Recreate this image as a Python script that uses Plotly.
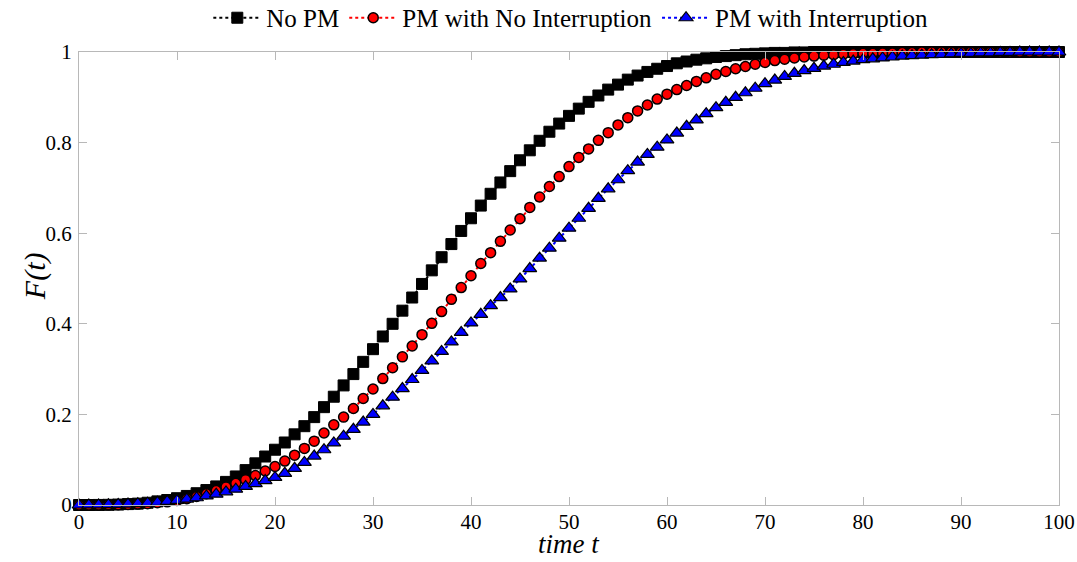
import plotly.graph_objects as go

t = list(range(0, 101))

no_pm = [0.0, 0.0, 0.0001, 0.0004, 0.001, 0.002, 0.003, 0.005, 0.008, 0.011,
         0.015, 0.020, 0.026, 0.033, 0.041, 0.051, 0.063, 0.077, 0.092, 0.107,
         0.122, 0.138, 0.156, 0.174, 0.194, 0.216, 0.239, 0.264, 0.289, 0.316,
         0.344, 0.372, 0.400, 0.429, 0.458, 0.488, 0.518, 0.547, 0.576, 0.605,
         0.633, 0.661, 0.687, 0.712, 0.737, 0.761, 0.783, 0.804, 0.824, 0.842,
         0.859, 0.875, 0.890, 0.904, 0.917, 0.928, 0.939, 0.948, 0.956, 0.963,
         0.969, 0.975, 0.979, 0.983, 0.986, 0.989, 0.991, 0.993, 0.995, 0.996,
         0.997, 0.998, 0.998, 0.999, 0.999, 1.0, 1.0, 1.0, 1.0, 1.0,
         1.0, 1.0, 1.0, 1.0, 1.0, 1.0, 1.0, 1.0, 1.0, 1.0,
         1.0, 1.0, 1.0, 1.0, 1.0, 1.0, 1.0, 1.0, 1.0, 1.0, 1.0]

pm_no_int = [0.0, 0.0, 0.0001, 0.0003, 0.0007, 0.0013, 0.002, 0.003, 0.005, 0.007,
             0.010, 0.014, 0.019, 0.025, 0.032, 0.040, 0.048, 0.056, 0.065, 0.075,
             0.085, 0.097, 0.110, 0.125, 0.141, 0.159, 0.177, 0.194, 0.213, 0.235,
             0.256, 0.279, 0.303, 0.327, 0.351, 0.376, 0.401, 0.427, 0.454, 0.480,
             0.506, 0.533, 0.557, 0.582, 0.607, 0.632, 0.657, 0.680, 0.703, 0.725,
             0.747, 0.767, 0.786, 0.805, 0.822, 0.839, 0.855, 0.870, 0.883, 0.896,
             0.907, 0.917, 0.926, 0.935, 0.943, 0.951, 0.957, 0.963, 0.968, 0.973,
             0.977, 0.981, 0.984, 0.987, 0.989, 0.991, 0.993, 0.994, 0.995, 0.996,
             0.997, 0.997, 0.998, 0.998, 0.999, 0.999, 1.0, 1.0, 1.0, 1.0,
             1.0, 1.0, 1.0, 1.0, 1.0, 1.0, 1.0, 1.0, 1.0, 1.0, 1.0]

pm_int = [0.0, 0.0001, 0.0003, 0.0007, 0.0013, 0.002, 0.003, 0.004, 0.006, 0.008,
          0.010, 0.013, 0.016, 0.020, 0.024, 0.029, 0.035, 0.041, 0.047, 0.054,
          0.061, 0.070, 0.081, 0.094, 0.108, 0.122, 0.137, 0.152, 0.167, 0.183,
          0.200, 0.219, 0.238, 0.257, 0.277, 0.297, 0.318, 0.339, 0.360, 0.381,
          0.402, 0.421, 0.440, 0.458, 0.477, 0.499, 0.522, 0.545, 0.567, 0.589,
          0.611, 0.633, 0.655, 0.677, 0.698, 0.718, 0.738, 0.757, 0.774, 0.790,
          0.806, 0.821, 0.836, 0.850, 0.864, 0.877, 0.889, 0.900, 0.910, 0.920,
          0.930, 0.938, 0.946, 0.953, 0.959, 0.964, 0.969, 0.973, 0.977, 0.980,
          0.983, 0.985, 0.987, 0.989, 0.991, 0.992, 0.993, 0.994, 0.995, 0.996,
          0.997, 0.997, 0.998, 0.998, 0.999, 0.999, 1.0, 1.0, 1.0, 1.0, 1.0]

x_ticks = [0, 10, 20, 30, 40, 50, 60, 70, 80, 90, 100]
y_ticks = [0, 0.2, 0.4, 0.6, 0.8, 1]
y_tick_text = ["0", "0.2", "0.4", "0.6", "0.8", "1"]

FONT = "Liberation Serif, Times New Roman, Times, DejaVu Serif, serif"

fig = go.Figure()
fig.add_trace(go.Scatter(
    x=t, y=no_pm, name="No PM", mode="lines+markers",
    line=dict(color="black", width=2, dash="dot"),
    marker=dict(symbol="square", size=11, color="black",
                line=dict(color="black", width=1)),
    cliponaxis=False))
fig.add_trace(go.Scatter(
    x=t, y=pm_no_int, name="PM with No Interruption", mode="lines+markers",
    line=dict(color="red", width=2, dash="dot"),
    marker=dict(symbol="circle", size=10, color="red",
                line=dict(color="black", width=1.5)),
    cliponaxis=False))
fig.add_trace(go.Scatter(
    x=t, y=pm_int, name="PM with Interruption", mode="lines+markers",
    line=dict(color="blue", width=2, dash="dot"),
    marker=dict(symbol="triangle-up", size=12, color="blue",
                line=dict(color="black", width=1.2)),
    cliponaxis=False))

axis_common = dict(
    showline=True, linecolor="#b8b8b8", linewidth=1.2, mirror="ticks",
    ticks="inside", ticklen=8, tickcolor="#b8b8b8", tickwidth=1,
    showgrid=False, zeroline=False, automargin=False,
    tickfont=dict(family=FONT, size=21, color="black"),
)

fig.update_xaxes(range=[0, 100], tickvals=x_ticks, ticklabelstandoff=-2, **axis_common)
fig.update_yaxes(range=[0, 1], tickvals=y_ticks, ticktext=y_tick_text,
                 ticklabelstandoff=2, **axis_common)

fig.update_layout(
    width=1077, height=562,
    margin=dict(l=79, r=18, t=52, b=57, autoexpand=False),
    paper_bgcolor="white", plot_bgcolor="white",
    font=dict(family=FONT, color="black"),
    showlegend=True,
    legend=dict(orientation="h", x=0.53, xref="container", xanchor="center",
                y=0.968, yref="container", yanchor="middle",
                font=dict(family=FONT, size=25, color="black"),
                itemwidth=48, tracegroupgap=0, bgcolor="rgba(0,0,0,0)"),
    annotations=[
        dict(text="<i>time t</i>", x=0.5, xref="paper", y=-(544 - 505) / 453.0,
             yref="paper", xanchor="center", yanchor="middle", showarrow=False,
             font=dict(family=FONT, size=27, color="black")),
        dict(text="<i>F(t)</i>", x=-0.045, xref="paper", y=0.505, yref="paper",
             xanchor="center", yanchor="middle", showarrow=False, textangle=-90,
             font=dict(family=FONT, size=30, color="black")),
    ],
)

fig.write_html("out.html")
